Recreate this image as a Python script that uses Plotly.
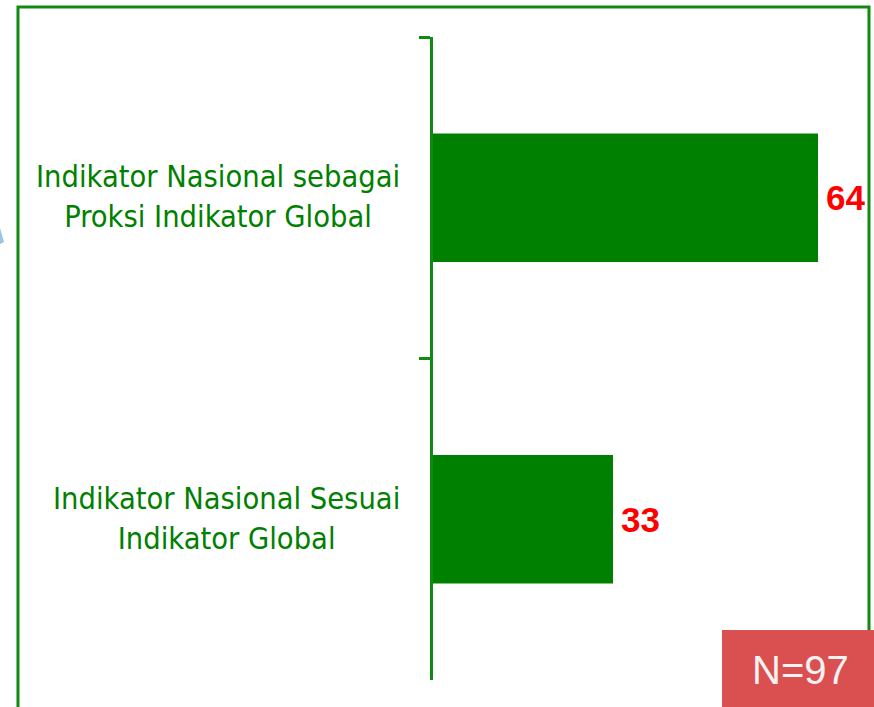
import plotly.graph_objects as go

categories = ["Indikator Nasional sebagai<br>Proksi Indikator Global",
              "Indikator Nasional Sesuai<br>Indikator Global"]
values = [64, 33]
n_label = "N=97"

GREEN = "#008000"
LINE_GREEN = "#118a11"
LABEL_FONT = "DejaVu Sans Condensed, Liberation Sans Narrow, sans-serif"

fig = go.Figure()
fig.add_trace(go.Bar(
    y=categories, x=values, orientation="h",
    marker=dict(color=GREEN, line=dict(width=0)),
    width=0.4,
    hoverinfo="skip",
))

for c, v in zip(categories, values):
    fig.add_annotation(
        x=0, xref="paper", y=c, yref="y", xanchor="right", yanchor="middle",
        xshift=-31, yshift=1, text=c, showarrow=False, align="center",
        font=dict(family=LABEL_FONT, size=30.5, color=GREEN),
    )
    fig.add_annotation(
        x=v, xref="x", y=c, yref="y", xanchor="left", yanchor="middle",
        xshift=6, text=str(v), showarrow=False,
        font=dict(family="Liberation Sans, Arial, sans-serif", size=35, color="#ff0000", weight="bold"),
    )

# outer frame
fig.add_shape(type="rect", xref="paper", yref="paper",
              x0=-0.9497, x1=0.9977, y0=-0.12, y1=1.0467,
              line=dict(color=LINE_GREEN, width=3), fillcolor="rgba(0,0,0,0)", layer="below")
# N box
fig.add_shape(type="rect", xref="paper", yref="paper",
              x0=0.6613, x1=1.06, y0=-0.12, y1=0.0778,
              line=dict(width=0), fillcolor="#da4f4f", layer="above")
fig.add_annotation(x=0.8400, xref="paper", y=0.016, yref="paper",
                   text=n_label, showarrow=False, xanchor="center", yanchor="middle",
                   font=dict(family="Liberation Sans, Arial, sans-serif", size=40, color="#f2f2f2"))
# small blue mark at far left
fig.add_shape(type="path", xref="paper", yref="paper",
              path="M -0.9908 0.7030 L -0.9817 0.6812 L -0.9908 0.6781 Z",
              line=dict(width=0), fillcolor="#9cc3e6")

fig.update_layout(
    width=874, height=707,
    margin=dict(l=433, r=4, t=37, b=27),
    plot_bgcolor="white", paper_bgcolor="white",
    showlegend=False,
    xaxis=dict(range=[5.78, 71.86], visible=False, showgrid=False, zeroline=False),
    yaxis=dict(range=[1.5, -0.5], type="category", tickson="boundaries",
               showline=True, linecolor=LINE_GREEN, linewidth=3,
               ticks="outside", ticklen=11, tickwidth=3, tickcolor=LINE_GREEN,
               showticklabels=False, showgrid=False, zeroline=False),
)

fig.write_html("out.html", config={"displayModeBar": False},
               post_script="document.body.style.margin='0';")
